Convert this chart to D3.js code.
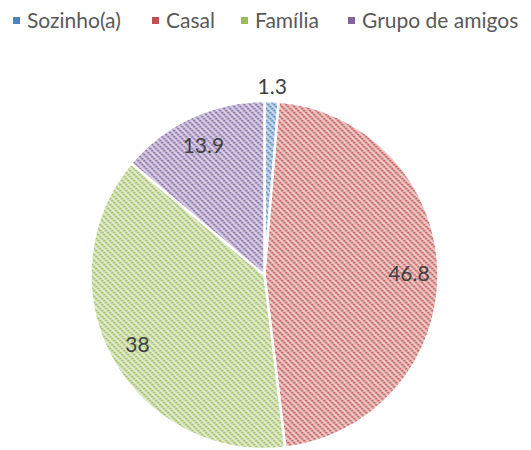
<!DOCTYPE html>
<html>
<head>
<meta charset="utf-8">
<script src="https://cdn.jsdelivr.net/npm/d3@7"></script>
<style>
  body { margin: 0; background: #fff; }
  svg { display: block; font-family: Lato, "Open Sans", sans-serif; }
</style>
</head>
<body>
<div id="chart"></div>
<script>
// categories and values
const categories = ["Sozinho(a)", "Casal", "Família", "Grupo de amigos"];
const values = [1.3, 46.8, 38, 13.9];
const colors = ["#4f81bd", "#c0504d", "#9bbb59", "#8064a2"];

const width = 531, height = 450;
const cx = 264.5, cy = 275, radius = 174;

const svg = d3.select("#chart").append("svg")
  .attr("width", width)
  .attr("height", height);

// hatched fills, one per slice colour
const defs = svg.append("defs");
colors.forEach((c, i) => {
  const p = defs.append("pattern")
    .attr("id", "hatch" + i)
    .attr("patternUnits", "userSpaceOnUse")
    .attr("width", 6).attr("height", 6);
  p.append("rect").attr("width", 6).attr("height", 6).attr("fill", c).attr("fill-opacity", 0.3);
  p.append("path")
    .attr("d", "M-1,-1 L7,7 M-1,5 L1,7 M5,-1 L7,1")
    .attr("stroke", c)
    .attr("stroke-opacity", 0.9)
    .attr("stroke-width", 2)
    .attr("stroke-dasharray", "2,0.8");
});

const pie = d3.pie().sort(null).value(d => d).startAngle(0).endAngle(2 * Math.PI);
const arcs = pie(values);
const arc = d3.arc().innerRadius(0).outerRadius(radius);

const g = svg.append("g").attr("transform", `translate(${cx},${cy})`);

g.selectAll("path")
  .data(arcs)
  .enter()
  .append("path")
  .attr("d", arc)
  .attr("fill", (d, i) => `url(#hatch${i})`)
  .attr("stroke", "#fff")
  .attr("stroke-width", 2.5);

// data labels: small slice outside, others inside
const labelR = d => d.value < 5 ? radius * 1.09 : radius * 0.83;
g.selectAll("text.lbl")
  .data(arcs)
  .enter()
  .append("text")
  .attr("class", "lbl")
  .attr("x", d => Math.sin((d.startAngle + d.endAngle) / 2) * labelR(d))
  .attr("y", d => -Math.cos((d.startAngle + d.endAngle) / 2) * labelR(d))
  .attr("text-anchor", "middle")
  .attr("dominant-baseline", "central")
  .attr("font-size", 21)
  .attr("fill", "#404040")
  .text(d => d.value);

// legend across the top
const legendX = [13, 152, 241, 348];
const legend = svg.append("g");
categories.forEach((c, i) => {
  legend.append("rect")
    .attr("x", legendX[i]).attr("y", 17)
    .attr("width", 7).attr("height", 7)
    .attr("fill", colors[i]);
  legend.append("text")
    .attr("x", legendX[i] + 14).attr("y", 28)
    .attr("font-size", 21)
    .attr("fill", "#595959")
    .text(c);
});
</script>
</body>
</html>
